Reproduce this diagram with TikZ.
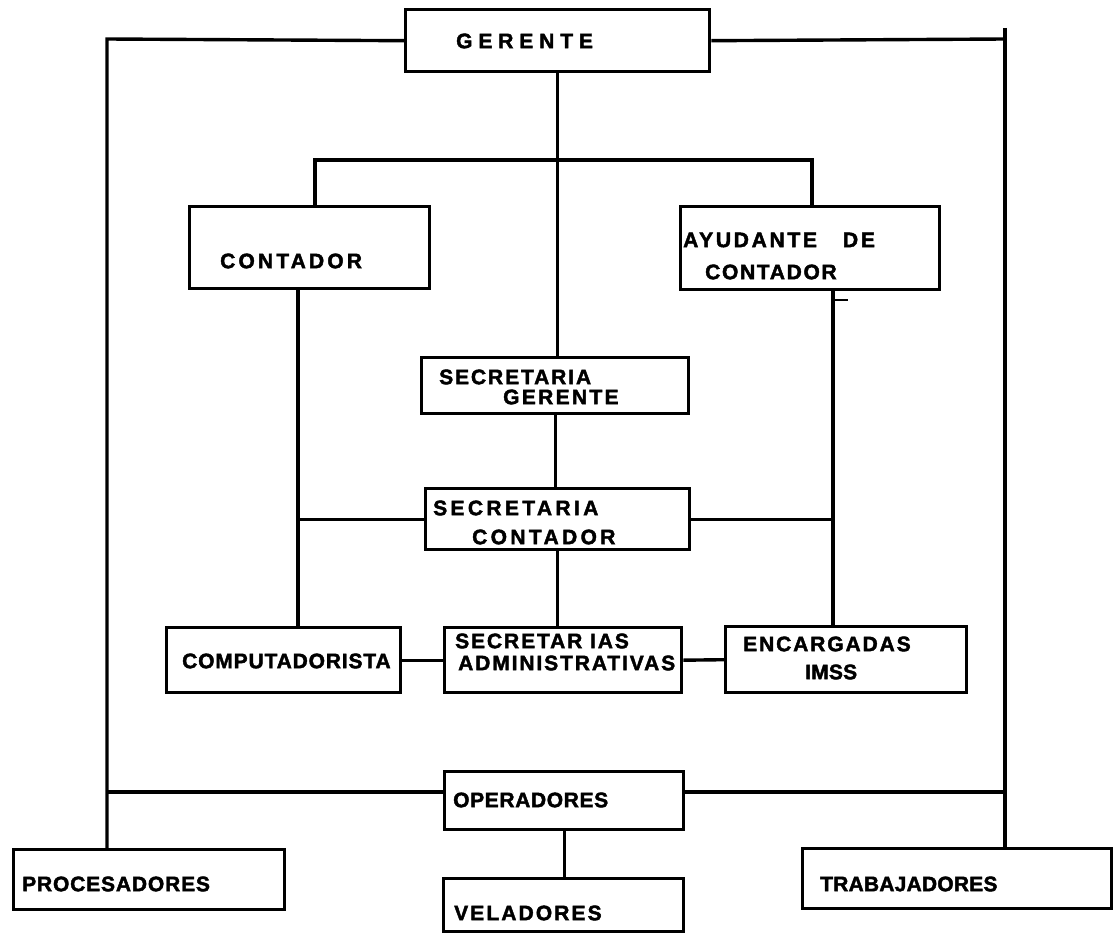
\documentclass[tikz,border=0pt]{standalone}
\usepackage{fontspec}
\setmainfont{Liberation Sans}[BoldFeatures={FakeBold=2}]
\newcommand{\lsp}[2]{{\addfontfeature{LetterSpace=#1}#2}}
\begin{document}
\begin{tikzpicture}[x=1pt,y=-1pt,
  box/.style={draw,line width=3.4pt,rectangle,anchor=north west,inner sep=0pt},
  txt/.style={anchor=west,inner sep=0pt,font=\bfseries\fontsize{21}{23}\selectfont},
  conn/.style={line width=3.4pt}]
\useasboundingbox (0,0) rectangle (1117,933);
% boxes
\node[box,minimum width=304pt,minimum height=62pt] (gerente) at (404,8) {};
\node[box,minimum width=240pt,minimum height=82pt] (contador) at (188,205) {};
\node[box,minimum width=259pt,minimum height=83pt] (ayudante) at (679,205) {};
\node[box,minimum width=267pt,minimum height=56pt] (secger) at (420,356) {};
\node[box,minimum width=264pt,minimum height=61pt] (seccont) at (424,487) {};
\node[box,minimum width=234pt,minimum height=65pt] (comp) at (165,626) {};
\node[box,minimum width=237pt,minimum height=65pt] (secadm) at (443,626) {};
\node[box,minimum width=241pt,minimum height=66pt] (encarg) at (724,625) {};
\node[box,minimum width=239pt,minimum height=58pt] (operad) at (443,770) {};
\node[box,minimum width=240pt,minimum height=53pt] (velad) at (442,877) {};
\node[box,minimum width=271pt,minimum height=60pt] (proces) at (12,848) {};
\node[box,minimum width=309pt,minimum height=60pt] (trabaj) at (801,847) {};
% texts
\node[txt] (tger) at (456,41) {\lsp{28}{GERENTE}};
\node[txt] (tcont) at (220,261) {\lsp{15}{CONTADOR}};
\node[txt] (tayu) at (683,240) {\lsp{13}{AYUDANTE}\hspace{26pt}\lsp{13}{DE}};
\node[txt] (tayu2) at (705,272) {\lsp{8}{CONTADOR}};
\node[txt] (tsg1) at (439,377) {\lsp{9}{SECRETARIA}};
\node[txt] (tsg2) at (503,397) {\lsp{11}{GERENTE}};
\node[txt] (tsc1) at (433,508) {\lsp{16}{SECRETARIA}};
\node[txt] (tsc2) at (472,537) {\lsp{16}{CONTADOR}};
\node[txt] (tcomp) at (182,661) {\lsp{4}{COMPUTADORISTA}};
\node[txt] (tsa1) at (455,641) {\lsp{9}{SECRETAR IAS}};
\node[txt] (tsa2) at (458,663) {\lsp{9}{ADMINISTRATIVAS}};
\node[txt] (tei1) at (743,644) {\lsp{9}{ENCARGADAS}};
\node[txt] (tei2) at (805,672) {\lsp{1}{IMSS}};
\node[txt] (top) at (453,800) {\lsp{3}{OPERADORES}};
\node[txt] (tvel) at (454,913) {\lsp{10}{VELADORES}};
\node[txt] (tpro) at (22,884) {\lsp{4}{PROCESADORES}};
\node[txt] (ttra) at (820,884) {\lsp{1}{TRABAJADORES}};
% junction coordinates
\coordinate (tl) at (107,39);
\coordinate (tr) at (1005,39);
\coordinate (trtop) at (1005,28);
\coordinate (cl) at (315,160);
\coordinate (cr) at (812,160);
\coordinate (lv) at (298,0);
\coordinate (rv) at (833,0);
\coordinate (ol) at (107,792);
\coordinate (or) at (1005,792);
\coordinate (tick) at (833,300);
% connectors
\draw[conn] (gerente.west) -- (tl) -- (tl |- proces.north);
\draw[conn] (gerente.east) -- (tr);
\draw[conn] (trtop) -- (trtop |- trabaj.north);
\draw[conn] (gerente.south) -- (gerente.south |- secger.north);
\draw[conn] (cl |- contador.north) -- (cl) -- (cr) -- (cr |- ayudante.north);
\draw[conn] (secger.south) -- (secger.south |- seccont.north);
\draw[conn] (seccont.south) -- (seccont.south |- secadm.north);
\draw[conn] (lv |- contador.south) -- (lv |- comp.north);
\draw[conn] (rv |- ayudante.south) -- (rv |- encarg.north);
\draw[line width=1.6pt] (tick) -- ++(15,0);
\draw[conn] (seccont.west) -- (lv |- seccont.west);
\draw[conn] (seccont.east) -- (rv |- seccont.east);
\draw[conn] (comp.east) -- (secadm.west);
\draw[conn] (secadm.east) -- (encarg.west);
\draw[conn] (ol) -- (ol -| operad.west);
\draw[conn] (operad.east |- or) -- (or);
\draw[conn] (operad.south) -- (operad.south |- velad.north);
\end{tikzpicture}
\end{document}
